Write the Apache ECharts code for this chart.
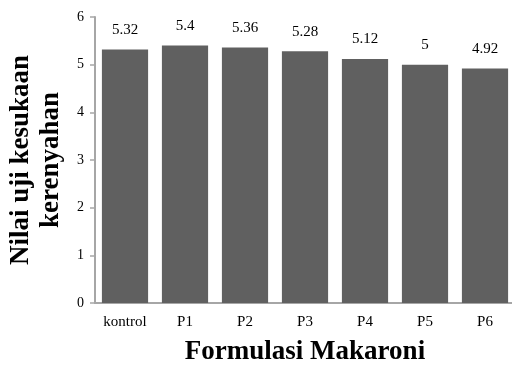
<!DOCTYPE html>
<html><head><meta charset="utf-8">
<script src="https://cdn.jsdelivr.net/npm/echarts@6/dist/echarts.min.js"></script>
<style>html,body{margin:0;padding:0;background:#fff}#c{width:512px;height:365px}</style>
</head><body><div id="c"></div>
<script>
var categories = ['kontrol','P1','P2','P3','P4','P5','P6'];
var values = [5.32, 5.4, 5.36, 5.28, 5.12, 5, 4.92];
var yTicks = [0,1,2,3,4,5,6];
var font = '"Liberation Serif", "Times New Roman", serif';
var chart = echarts.init(document.getElementById('c'));
chart.setOption({
  animation: false,
  grid: {left: 95, right: -3, top: 17, bottom: 62, outerBoundsMode: 'none', containLabel: false},
  xAxis: {
    type: 'category', data: categories,
    name: 'Formulasi Makaroni', nameLocation: 'middle', nameGap: 36,
    nameTextStyle: {fontFamily: font, fontWeight: 'bold', fontSize: 27, color: '#000'},
    axisLine: {lineStyle: {color: '#a6a6a6', width: 2}},
    axisTick: {show: false},
    axisLabel: {fontFamily: font, fontSize: 15, color: '#000', margin: 12}
  },
  yAxis: {
    type: 'value', min: 0, max: 6, interval: 1,
    name: 'Nilai uji kesukaan\nkerenyahan', nameLocation: 'middle', nameGap: 26,
    nameTextStyle: {fontFamily: font, fontWeight: 'bold', fontSize: 27, color: '#000', lineHeight: 30},
    axisLine: {show: true, lineStyle: {color: '#a6a6a6', width: 2}},
    axisTick: {show: true, length: 5, lineStyle: {color: '#a6a6a6', width: 1.5}},
    splitLine: {show: false},
    axisLabel: {fontFamily: font, fontSize: 14, color: '#000', margin: 11,
      formatter: function(v){ return yTicks.indexOf(v) >= 0 ? String(v) : ''; }}
  },
  series: [{
    type: 'bar', data: values, barCategoryGap: '23%',
    itemStyle: {color: '#606060'},
    label: {show: true, position: 'top', distance: 12, fontFamily: font, fontSize: 15, color: '#000'}
  }]
});
</script></body></html>
